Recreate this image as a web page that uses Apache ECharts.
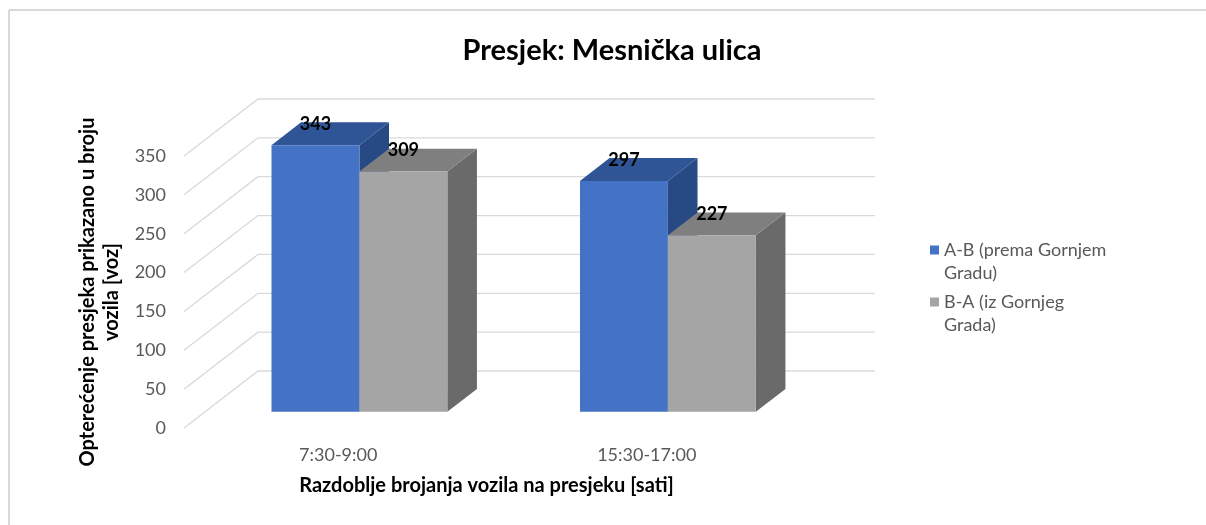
<!DOCTYPE html>
<html>
<head>
<meta charset="utf-8">
<script src="https://cdn.jsdelivr.net/npm/echarts@6/dist/echarts.min.js"></script>
<style>html,body{margin:0;padding:0;background:#fff;}#c{width:1206px;height:525px;}</style>
</head>
<body>
<div id="c"></div>
<script>
var categories = ['7:30-9:00', '15:30-17:00'];
var seriesNames = ['A-B (prema Gornjem\nGradu)', 'B-A (iz Gornjeg\nGrada)'];
var valuesAB = [343, 297];
var valuesBA = [309, 227];
var yTicks = [0, 50, 100, 150, 200, 250, 300, 350];

var FONT = 'Lato';
var DX = 74, DY = -57;          // depth vector of the 3D floor
var D1 = 0.286, DB = 0.40;      // bar depth start / thickness (fraction)
var BARW = 0.285;               // bar width fraction of band

var faceColors = [
  {front: '#4472C4', top: '#2F5597', side: '#284A84'},
  {front: '#A5A5A5', top: '#7F7F7F', side: '#6A6A6A'}
];

function barRenderer(sIdx) {
  return function (params, api) {
    var idx = api.value(0);
    var val = api.value(1);
    var base = api.coord([idx, 0]);
    var topPt = api.coord([idx, val]);
    var band = api.size([1, 0])[0];
    var w = band * BARW;
    var ox = D1 * DX, oy = D1 * DY;
    var bx = DB * DX, by = DB * DY;
    var xl = base[0] - w + sIdx * w + ox;
    var xr = xl + w;
    var yb = base[1] + oy;
    var yt = topPt[1] + oy;
    var c = faceColors[sIdx];
    return {
      type: 'group',
      children: [
        {type: 'polygon', shape: {points: [[xr, yt], [xr + bx, yt + by], [xr + bx, yb + by], [xr, yb]]}, style: {fill: c.side}},
        {type: 'polygon', shape: {points: [[xl, yt], [xr, yt], [xr + bx, yt + by], [xl + bx, yt + by]]}, style: {fill: c.top}},
        {type: 'rect', shape: {x: xl, y: yt, width: w, height: yb - yt}, style: {fill: c.front}},
        {type: 'text', x: (xl + xr) / 2, y: yt - 21, style: {text: String(val), fill: '#000', font: 'bold 18px ' + FONT, align: 'center', verticalAlign: 'middle'}, z2: 100}
      ]
    };
  };
}

function gridRenderer(params, api) {
  var v = api.value(0);
  var cs = params.coordSys;
  var y = api.coord([0, v])[1];
  var x0 = cs.x, x1 = cs.x + cs.width;
  return {
    type: 'polyline',
    shape: {points: [[x0, y], [x0 + DX, y + DY], [x1 + DX, y + DY]]},
    style: {stroke: '#D9D9D9', lineWidth: 1.3, fill: null}
  };
}

// square icon on the first text line (tiny invisible point extends the box)
var legendIcon = 'path://M0,0H9V9H0Z M4.45,32.9H4.55V33H4.45Z';

var chart = echarts.init(document.getElementById('c'), null, {renderer: 'canvas'});
chart.setOption({
  animation: false,
  backgroundColor: '#fff',
  title: {
    text: 'Presjek: Mesnička ulica',
    left: 607, top: 31, textAlign: 'center',
    textStyle: {fontFamily: FONT, fontWeight: 'bold', fontSize: 29, color: '#000'}
  },
  legend: {
    orient: 'vertical', left: 925, top: 234, itemGap: 6,
    itemWidth: 9, itemHeight: 33, icon: legendIcon,
    data: [seriesNames[0], seriesNames[1]],
    textStyle: {fontFamily: FONT, fontSize: 18, color: '#595959', lineHeight: 23}
  },
  grid: {left: 184, right: 405, top: 156, bottom: 97},
  xAxis: {
    type: 'category', data: categories,
    axisLine: {show: false}, axisTick: {show: false}, splitLine: {show: false},
    axisLabel: {fontFamily: FONT, fontSize: 18, color: '#595959', margin: 18},
    name: 'Razdoblje brojanja vozila na presjeku [sati]',
    nameLocation: 'middle', nameGap: 48,
    nameTextStyle: {fontFamily: FONT, fontWeight: 'bold', fontSize: 20, color: '#000', padding: [0, 12, 0, 0]}
  },
  yAxis: {
    type: 'value', min: 0, max: 350, interval: 50,
    axisLine: {show: false}, axisTick: {show: false}, splitLine: {show: false},
    axisLabel: {fontFamily: FONT, fontSize: 18, color: '#595959', margin: 18},
    name: 'Opterećenje presjeka prikazano u broju\nvozila [voz]',
    nameLocation: 'middle', nameGap: 56, nameRotate: 90,
    nameTextStyle: {fontFamily: FONT, fontWeight: 'bold', fontSize: 20, color: '#000', lineHeight: 24}
  },
  graphic: [
    {type: 'line', shape: {x1: 9, y1: 10, x2: 1206, y2: 10}, style: {stroke: '#D9D9D9', lineWidth: 2}},
    {type: 'line', shape: {x1: 9, y1: 10, x2: 9, y2: 525}, style: {stroke: '#D9D9D9', lineWidth: 2}}
  ],
  series: [
    {type: 'custom', name: 'grid3d', renderItem: gridRenderer, clip: false, silent: true, z: 1,
     data: yTicks.map(function (t) { return [t]; }), encode: {y: 0}},
    {type: 'custom', name: seriesNames[0], renderItem: barRenderer(0), clip: false, z: 2,
     itemStyle: {color: faceColors[0].front},
     data: valuesAB.map(function (v, i) { return [i, v]; }), encode: {x: 0, y: 1}},
    {type: 'custom', name: seriesNames[1], renderItem: barRenderer(1), clip: false, z: 3,
     itemStyle: {color: faceColors[1].front},
     data: valuesBA.map(function (v, i) { return [i, v]; }), encode: {x: 0, y: 1}}
  ]
});
</script>
</body>
</html>
